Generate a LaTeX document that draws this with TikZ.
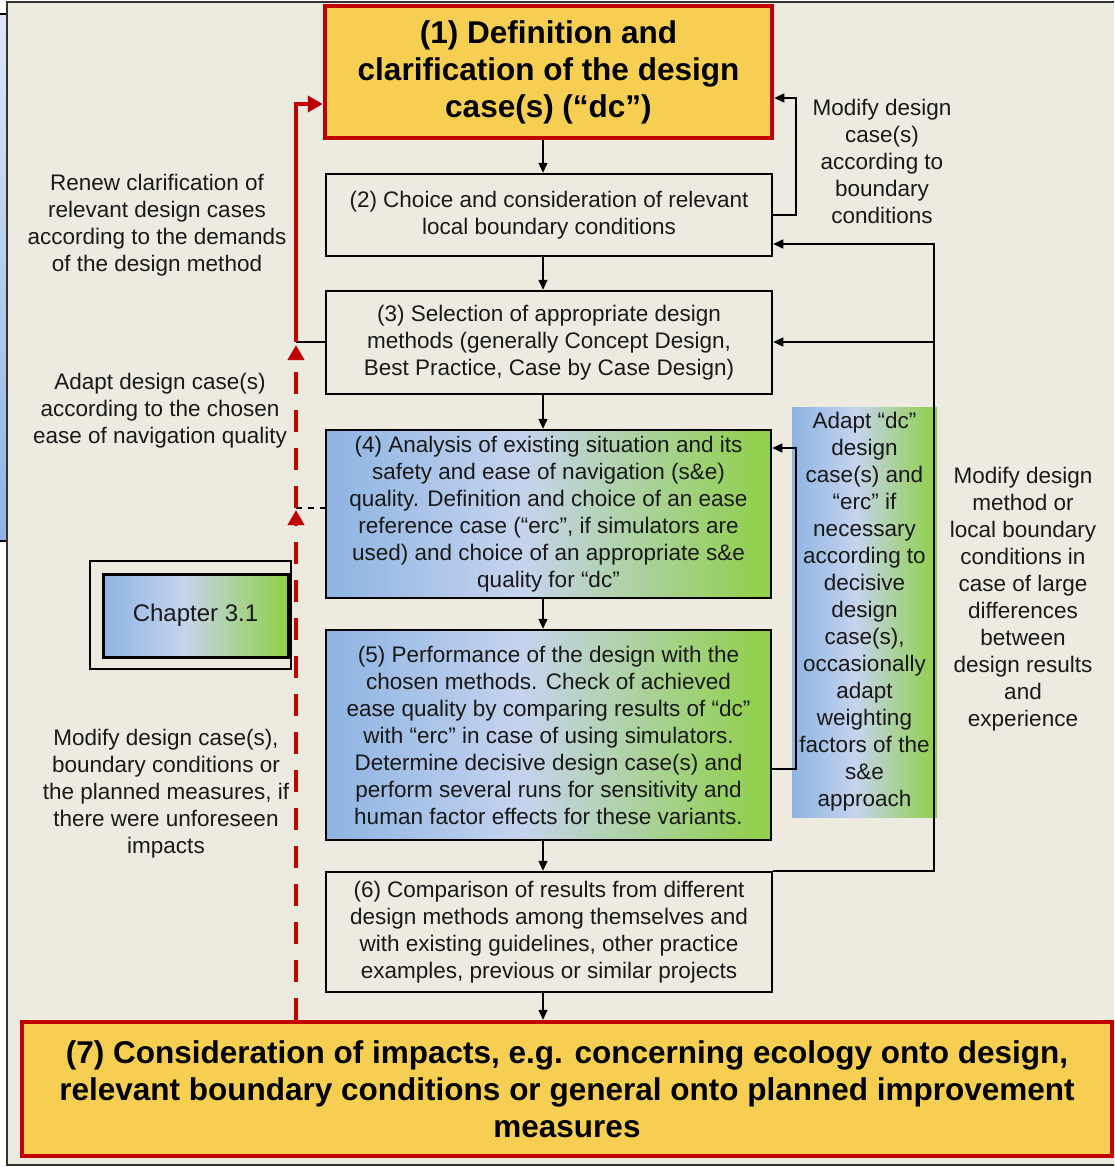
\documentclass[tikz,border=0pt]{standalone}
\usepackage{fontspec}
\setmainfont{Liberation Sans}
\usetikzlibrary{arrows.meta,calc}
\definecolor{bgc}{RGB}{237,235,224}
\definecolor{ylw}{RGB}{246,206,82}
\definecolor{rd}{RGB}{192,0,0}
\definecolor{sblue}{RGB}{141,180,226}
\definecolor{slight}{RGB}{198,211,238}
\definecolor{sgreen}{RGB}{146,208,80}
\definecolor{stripl}{RGB}{222,230,245}
\definecolor{txt}{RGB}{25,25,25}
\pgfdeclarehorizontalshading{bgshade}{100bp}{color(0bp)=(sblue); color(25bp)=(sblue); color(47bp)=(slight); color(73bp)=(sgreen); color(100bp)=(sgreen)}
\pgfdeclareverticalshading{stripshade}{100bp}{color(0bp)=(sblue); color(25bp)=(sblue); color(75bp)=(stripl); color(100bp)=(stripl)}
\newcommand{\fbody}{\fontsize{22.5pt}{27pt}\selectfont}
\newcommand{\fbig}{\fontsize{31.5pt}{37pt}\selectfont\bfseries}
\begin{document}
\begin{tikzpicture}[x=1pt,y=-1pt,
  box/.style={draw=black, line width=2.5pt, fill=bgc, align=center, inner sep=0pt, font=\fbody, text=txt},
  shbox/.style={draw=black, line width=2.5pt, shading=bgshade, align=center, inner sep=0pt, font=\fbody, text=txt},
  ybox/.style={draw=rd, line width=4.5pt, fill=ylw, align=center, inner sep=0pt, font=\fbig, text=black},
  panel/.style={shading=bgshade, align=center, inner sep=0pt, font=\fbody, text=txt, minimum width=145pt, minimum height=410pt},
  lbl/.style={align=center, font=\fbody, text=txt, inner sep=0pt},
  conn/.style={line width=1.5pt, draw=black},
  arr/.style={conn, -{Triangle[length=10pt,width=9pt]}},
  redl/.style={draw=rd, line width=4pt},
  redarr/.style={redl, -{Triangle[length=15pt,width=16pt]}},
  reddash/.style={redl, dash pattern=on 22pt off 16pt, -{Triangle[length=15pt,width=16pt]}}
]
\useasboundingbox (0,0) rectangle (1114,1167);
\clip (0,0) rectangle (1114,1167);
\fill[white] (0,0) rectangle (1114,1167);
% left strip from underlying page
\shade[shading=stripshade] (0,14) rectangle (7,541);
\draw[line width=1.5pt] (0,14) -- (7,14);
\draw[line width=1.5pt] (0,541) -- (7,541);
% frame
\draw[fill=bgc, draw=black!80, line width=1.8pt] (7,2) rectangle (1130,1165);

% side panel
\node[panel] (pn) at (864.5,612) {Adapt “dc”\\design\\case(s) and\\“erc” if\\necessary\\according to\\decisive\\design\\case(s),\\occasionally\\adapt\\weighting\\factors of the\\s\&e\\approach};

% main boxes
\node[ybox, minimum width=447pt, minimum height=132pt] (b1) at (548.5,72) {(1) Definition and\\clarification of the design\\case(s) (“dc”)};
\node[box, minimum width=446pt, minimum height=82pt] (b2) at (549,215) {(2) Choice and consideration of relevant\\local boundary conditions};
\node[box, minimum width=446pt, minimum height=103pt] (b3) at (549,342.5) {(3) Selection of appropriate design\\methods (generally Concept Design,\\Best Practice, Case by Case Design)};
\node[shbox, minimum width=445pt, minimum height=168pt] (b4) at (548.5,514) {(4) Analysis of existing situation and its\\safety and ease of navigation (s\&e)\\quality. Definition and choice of an ease\\reference case (“erc”, if simulators are\\used) and choice of an appropriate s\&e\\quality for “dc”};
\node[shbox, minimum width=445pt, minimum height=210pt] (b5) at (548.5,735) {(5) Performance of the design with the\\chosen methods. Check of achieved\\ease quality by comparing results of “dc”\\with “erc” in case of using simulators.\\Determine decisive design case(s) and\\perform several runs for sensitivity and\\human factor effects for these variants.};
\node[box, minimum width=446pt, minimum height=120pt] (b6) at (549,932) {(6) Comparison of results from different\\design methods among themselves and\\with existing guidelines, other practice\\examples, previous or similar projects};
\node[ybox, minimum width=1090pt, minimum height=134pt] (b7) at (567,1089) {(7) Consideration of impacts, e.g. concerning ecology onto design,\\relevant boundary conditions or general onto planned improvement\\measures};

% chapter box
\node[draw=black, line width=1.8pt, fill=bgc, minimum width=201pt, minimum height=108pt, inner sep=0pt] (co) at (190.5,615) {};
\node[draw=black, line width=3pt, shading=bgshade, minimum width=185pt, minimum height=83pt, inner sep=0pt, font=\fontsize{24pt}{28pt}\selectfont, text=txt] (ci) at (195.5,615.5) {Chapter 3.1};

% labels
\node[lbl] (tl1) at (157,225) {Renew clarification of\\relevant design cases\\according to the demands\\of the design method};
\node[lbl] (tl2) at (160,410.5) {Adapt design case(s)\\according to the chosen\\ease of navigation quality};
\node[lbl] (tl3) at (166,794) {Modify design case(s),\\boundary conditions or\\the planned measures, if\\there were unforeseen\\impacts};
\node[lbl] (tr1) at (882,161) {Modify design\\case(s)\\according to\\boundary\\conditions};
\node[lbl] (tr2) at (1023,599.5) {Modify design\\method or\\local boundary\\conditions in\\case of large\\differences\\between\\design results\\and\\experience};

% main flow arrows
\coordinate (ax) at (543,0);
\draw[arr] (b1.south -| ax) -- (b2.north -| ax);
\draw[arr] (b2.south -| ax) -- (b3.north -| ax);
\draw[arr] (b3.south -| ax) -- (b4.north -| ax);
\draw[arr] (b4.south -| ax) -- (b5.north -| ax);
\draw[arr] (b5.south -| ax) -- (b6.north -| ax);
\draw[arr] (b6.south -| ax) -- (b7.north -| ax);

% small feedback loops
\coordinate (lx) at (796,0);
\draw[arr] (b2.east) -- (b2.east -| lx) |- (b1.east |- 0,98);
\draw[arr] (b5.east |- 0,769) -- (lx |- 0,769) |- (b4.east |- 0,448);

% big feedback loop
\coordinate (rx) at (934,0);
\draw[arr] (b6.north east) -- (rx |- b6.north) -- (rx |- 0,244) -- (b2.east |- 0,244);
\draw[arr] (rx |- 0,342) -- (b3.east |- 0,342);

% red feedback on the left
\coordinate (jr) at (296,342);
\coordinate (jd) at (296,508);
\draw[conn] (jr) -- (b3.west |- jr);
\draw[redarr] (jr) -- (296,104) -- (b1.west |- 0,104);
\draw[conn, dash pattern=on 6pt off 6pt] (jd) -- (b4.west |- jd);
\draw[reddash] (b7.north -| jr) -- (296,510);
\draw[reddash] (296,508) -- (296,345);
\end{tikzpicture}
\end{document}
